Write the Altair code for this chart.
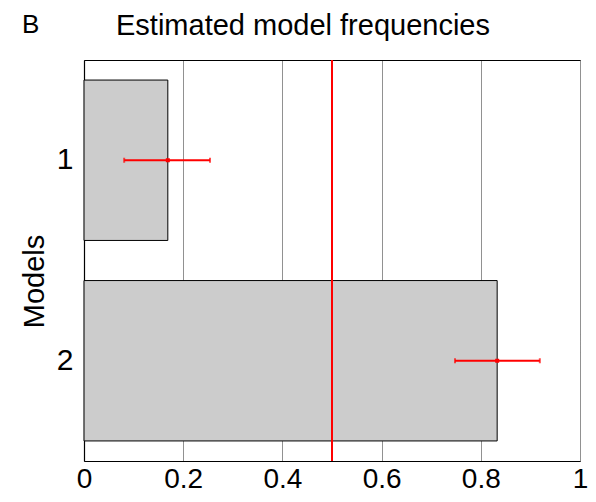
import altair as alt
import pandas as pd

models = ["1", "2"]
freq = [0.169, 0.833]
err_lo = [0.081, 0.748]
err_hi = [0.254, 0.919]
threshold = [0.5]
x_ticks = [0, 0.2, 0.4, 0.6, 0.8, 1]
title_text = "Estimated model frequencies"
panel_letter = "B"

df = pd.DataFrame({"model": models, "freq": freq, "lo": err_lo, "hi": err_hi})
thr = pd.DataFrame({"thr": threshold})

FONT = "Liberation Sans"
xscale = alt.Scale(domain=[0, 1], nice=False, zero=True)
yscale = alt.Scale(domain=models, paddingInner=0.2, paddingOuter=0.1)

xaxis = alt.Axis(
    values=x_ticks, format="~g", grid=True, gridColor="#222222", gridDash=[1, 1],
    gridWidth=1, ticks=False, domain=True, domainColor="black", domainWidth=1.2,
    labelFont=FONT, labelFontSize=28, labelColor="black", labelPadding=4,
    labelFlush=False, title=None,
)
yaxis = alt.Axis(
    ticks=False, domain=True, domainColor="black", domainWidth=1.2,
    labelFont=FONT, labelFontSize=30, labelColor="black", labelPadding=11,
    labelAngle=0, title="Models", titleFont=FONT, titleFontSize=29,
    titleFontWeight="normal", titleColor="black", titleX=-50, titleY=221,
    titleBaseline="middle", titleAlign="center", titleAngle=-90, grid=False,
)

bars = alt.Chart(df).mark_bar(color="#cccccc", stroke="black", strokeWidth=1).encode(
    x=alt.X("freq:Q", scale=xscale, axis=xaxis),
    y=alt.Y("model:N", scale=yscale, axis=yaxis, sort=models),
)

rule = alt.Chart(thr).mark_rule(color="red", strokeWidth=2).encode(
    x=alt.X("thr:Q", scale=xscale, axis=alt.Axis(orient="top", labels=False, ticks=False,
            grid=False, domain=True, domainColor="black", domainWidth=1.2, title=None)),
)

err = alt.Chart(df).mark_rule(color="red", strokeWidth=2).encode(
    x=alt.X("lo:Q", scale=xscale, axis=None), x2="hi:Q",
    y=alt.Y("model:N", scale=yscale, sort=models),
)
caps_lo = alt.Chart(df).mark_tick(color="red", thickness=2, size=5).encode(
    x=alt.X("lo:Q", scale=xscale, axis=None),
    y=alt.Y("model:N", scale=yscale, sort=models),
)
caps_hi = alt.Chart(df).mark_tick(color="red", thickness=2, size=5).encode(
    x=alt.X("hi:Q", scale=xscale, axis=None),
    y=alt.Y("model:N", scale=yscale, sort=models),
)
dots = alt.Chart(df).mark_square(color="red", size=16, opacity=1).encode(
    x=alt.X("freq:Q", scale=xscale, axis=None),
    y=alt.Y("model:N", scale=yscale, sort=models),
)
label_b = alt.Chart(pd.DataFrame({"t": [panel_letter]})).mark_text(
    font=FONT, fontSize=26, color="black", align="left", baseline="alphabetic"
).encode(text="t:N", x=alt.value(-62), y=alt.value(-27))
title_mark = alt.Chart(pd.DataFrame({"t": [title_text]})).mark_text(
    font=FONT, fontSize=29, color="black", align="center", baseline="alphabetic"
).encode(text="t:N", x=alt.value(219), y=alt.value(-25))

chart = alt.layer(bars, rule, err, caps_lo, caps_hi, dots, label_b, title_mark).resolve_axis(
    x="independent"
).properties(
    width=496, height=401,
    autosize=alt.AutoSizeParams(type="none"),
    padding={"left": 76, "top": 52, "right": 8, "bottom": 33},
).configure_view(stroke=None)

chart.save("out.html", embed_options={"renderer": "svg", "actions": False})
